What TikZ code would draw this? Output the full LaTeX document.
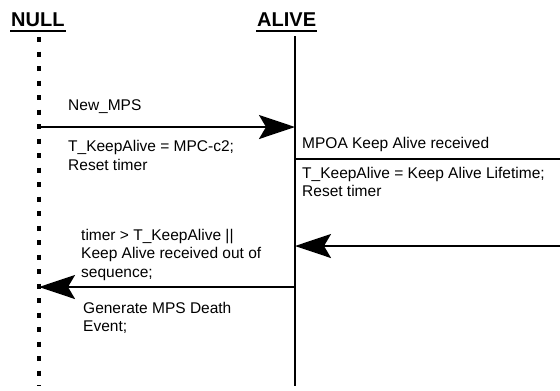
\documentclass[tikz,border=0pt]{standalone}
\usepackage{fontspec}
\setmainfont{Liberation Sans}
\usetikzlibrary{arrows.meta}
\tikzset{
  lbl/.style={inner sep=0pt, anchor=base west, align=left, font=\fontsize{15.5bp}{18.5bp}\selectfont},
  head/.style={inner sep=0pt, anchor=base west, font=\fontsize{20bp}{24bp}\selectfont\bfseries},
  uline/.style={line width=2.2bp},
  lifesolid/.style={line width=2.2bp},
  lifedash/.style={line width=3.2bp, dash pattern=on 5bp off 9.5bp},
  msg/.style={line width=2.4bp, -{Stealth[length=36bp,width=24bp,inset=7bp]}},
  plain/.style={line width=2.4bp},
}
\begin{document}
\begin{tikzpicture}[x=1bp,y=-1bp]
\useasboundingbox (0,0) rectangle (560,390);
% headings
\node[head] (nullh) at (11,26) {NULL};
\node[head] (aliveh) at (257,26) {ALIVE};
\draw[uline] ([yshift=-5bp,xshift=-1bp]nullh.base west) -- ([yshift=-5bp,xshift=1bp]nullh.base east);
\draw[uline] ([yshift=-5bp,xshift=-1bp]aliveh.base west) -- ([yshift=-5bp,xshift=1bp]aliveh.base east);
% lifelines
\coordinate (ntop) at (39,37);
\coordinate (nbot) at (39,386);
\coordinate (atop) at (295,36);
\coordinate (abot) at (295,386);
\draw[lifedash] (ntop) -- (nbot);
\draw[lifesolid] (atop) -- (abot);
% message points
\coordinate (m1s) at (39,127);
\coordinate (m1e) at (295,127);
\coordinate (m2s) at (295,159);
\coordinate (m2e) at (560,159);
\coordinate (m3s) at (560,246);
\coordinate (m3e) at (295,246);
\coordinate (m4s) at (295,287);
\coordinate (m4e) at (39,287);
\draw[msg] (m1s) -- (m1e);
\draw[plain] (m2s) -- (m2e);
\draw[msg] (m3s) -- (m3e);
\draw[msg] (m4s) -- (m4e);
% labels (base anchor = baseline of last line)
\node[lbl] (t1) at (68,110) {New\_MPS};
\node[lbl] (t2) at (68,170) {T\_KeepAlive = MPC-c2;\\Reset timer};
\node[lbl] (t3) at (302,148) {MPOA Keep Alive received};
\node[lbl] (t4) at (302,196.5) {T\_KeepAlive = Keep Alive Lifetime;\\Reset timer};
\node[lbl] (t5) at (81,277) {timer > T\_KeepAlive ||\\Keep Alive received out of\\sequence;};
\node[lbl] (t6) at (83,331.5) {Generate MPS Death\\Event;};
\end{tikzpicture}
\end{document}
